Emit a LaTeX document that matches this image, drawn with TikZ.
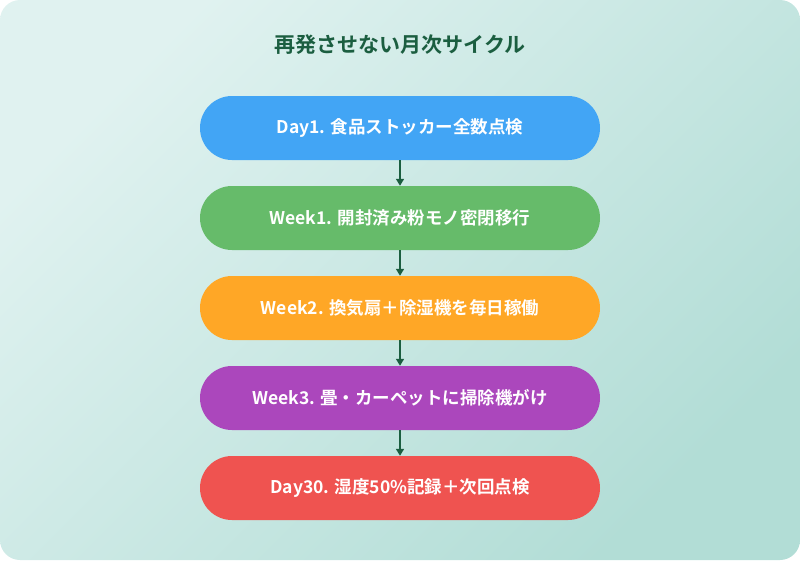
\documentclass[tikz,border=0pt]{standalone}
\usepackage{fontspec}
\setmainfont{Noto Sans CJK JP}[BoldFont={* Bold}]
\usetikzlibrary{arrows.meta}
\definecolor{bgA}{HTML}{E0F2F0}
\definecolor{bgB}{HTML}{B2DDD6}
\definecolor{ttl}{HTML}{1B5E40}
\definecolor{cA}{HTML}{42A5F5}
\definecolor{cB}{HTML}{66BB6A}
\definecolor{cC}{HTML}{FFA726}
\definecolor{cD}{HTML}{AB47BC}
\definecolor{cE}{HTML}{EF5350}
\tikzset{
 stage/.style={fill=#1,draw=none,rounded corners=32pt,minimum width=400pt,minimum height=64pt,text=white,font=\bfseries\fontsize{17.5pt}{20pt}\selectfont,inner sep=0pt},
 link/.style={draw=ttl,line width=1.6pt,-{Triangle[length=7pt,width=8pt]}}
}
\begin{document}
\begin{tikzpicture}[x=1pt,y=-1pt]
\useasboundingbox (0,0) rectangle (800,560);
\shade[left color=bgA,right color=bgB,shading angle=45,rounded corners=20pt] (0,0) rectangle (800,560);
\node[text=ttl,font=\bfseries\fontsize{21pt}{24pt}\selectfont] (title) at (400,45) {再発させない月次サイクル};
\node[stage=cA] (s1) at (400,128) {Day1. 食品ストッカー全数点検};
\node[stage=cB] (s2) at (400,218) {Week1. 開封済み粉モノ密閉移行};
\node[stage=cC] (s3) at (400,308) {Week2. 換気扇＋除湿機を毎日稼働};
\node[stage=cD] (s4) at (400,398) {Week3. 畳・カーペットに掃除機がけ};
\node[stage=cE] (s5) at (400,488) {Day30. 湿度50\%記録＋次回点検};
\draw[link] (s1) -- (s2);
\draw[link] (s2) -- (s3);
\draw[link] (s3) -- (s4);
\draw[link] (s4) -- (s5);
\end{tikzpicture}
\end{document}
